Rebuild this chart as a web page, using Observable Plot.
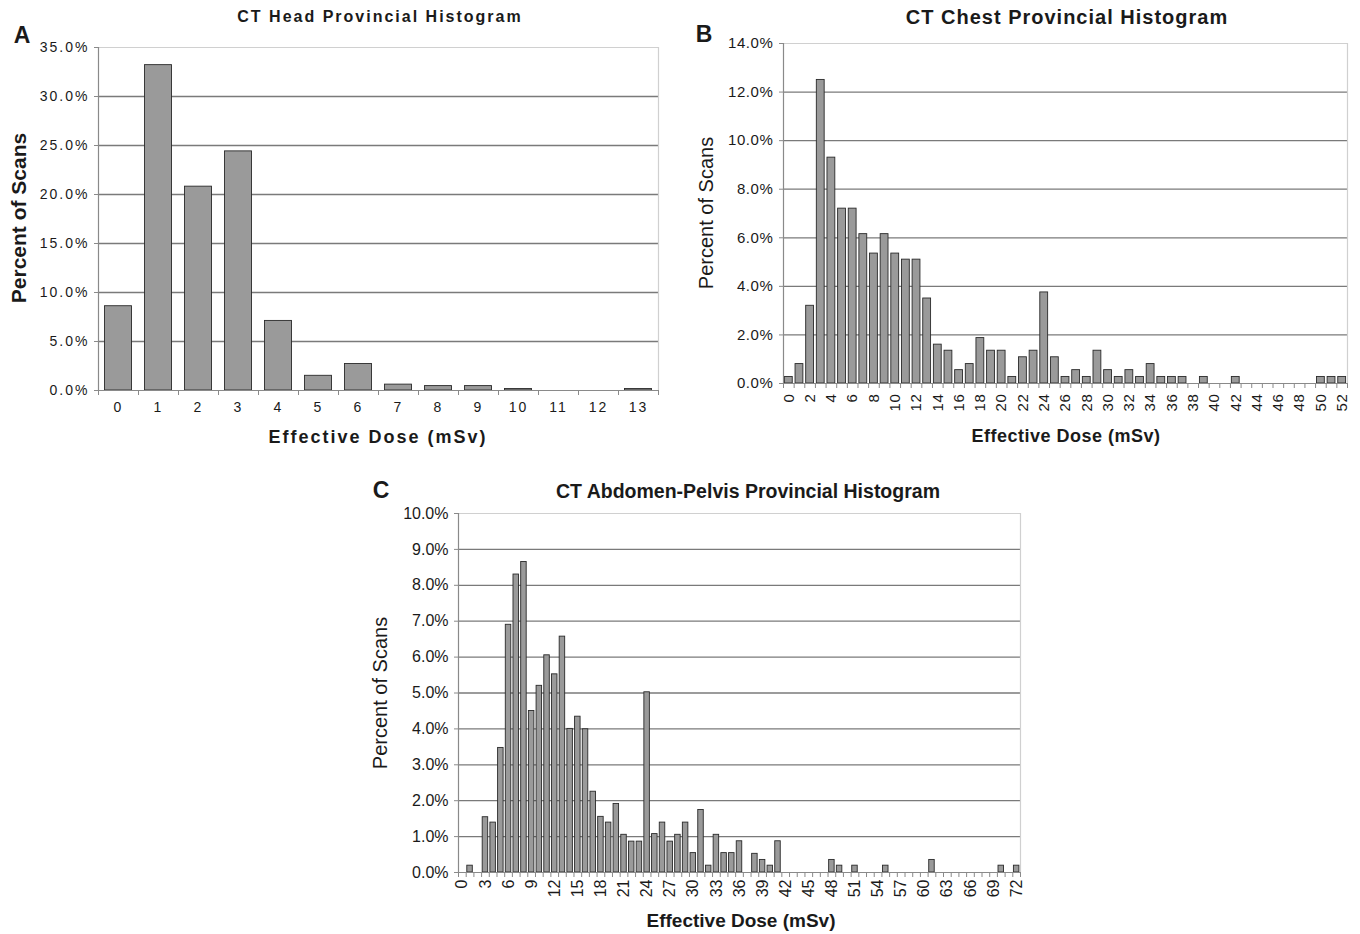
<!DOCTYPE html>
<html><head><meta charset="utf-8">
<script src="https://cdn.jsdelivr.net/npm/d3@7"></script>
<script src="https://cdn.jsdelivr.net/npm/@observablehq/plot@0.6"></script>
<style>
body{margin:0;background:#fff;}
#root{position:relative;width:1360px;height:934px;overflow:hidden;font-family:"Liberation Sans",Arial,sans-serif;color:#1a1a1a;background:#fff;}
.t{position:absolute;white-space:nowrap;line-height:1;transform:translate(-50%,-50%);}
.rot{transform:translate(-50%,-50%) rotate(-90deg);}
.panel{position:absolute;}
.chA text{letter-spacing:2px;}
.chB text{letter-spacing:0.6px;}
</style></head><body><div id="root"></div>
<script>
// ---- Data ----
const headDose = [0,1,2,3,4,5,6,7,8,9,10,11,12,13];
const headPct  = [8.6,33.2,20.8,24.4,7.1,1.5,2.7,0.6,0.45,0.45,0.15,0,0,0.15];
const headYTicks = [0,5,10,15,20,25,30,35];
const headXLabels = [0,1,2,3,4,5,6,7,8,9,10,11,12,13];

const chestDose = [0,1,2,3,4,5,6,7,8,9,10,11,12,13,14,15,16,17,18,19,20,21,22,23,24,25,26,27,28,29,30,31,32,33,34,35,36,37,38,39,40,41,42,43,44,45,46,47,48,49,50,51,52];
const chestPct  = [0.27,0.8,3.2,12.5,9.3,7.2,7.2,6.15,5.35,6.15,5.35,5.1,5.1,3.5,1.6,1.35,0.55,0.8,1.87,1.35,1.35,0.27,1.08,1.35,3.75,1.08,0.27,0.55,0.27,1.35,0.55,0.27,0.55,0.27,0.8,0.27,0.27,0.27,0,0.27,0,0,0.27,0,0,0,0,0,0,0,0.27,0.27,0.27];
const chestYTicks = [0,2,4,6,8,10,12,14];
const chestXLabels = [0,2,4,6,8,10,12,14,16,18,20,22,24,26,28,30,32,34,36,38,40,42,44,46,48,50,52];

const abdDose = [0,1,2,3,4,5,6,7,8,9,10,11,12,13,14,15,16,17,18,19,20,21,22,23,24,25,26,27,28,29,30,31,32,33,34,35,36,37,38,39,40,41,42,43,44,45,46,47,48,49,50,51,52,53,54,55,56,57,58,59,60,61,62,63,64,65,66,67,68,69,70,71,72];
const abdPct  = [0,0.19,0,1.54,1.39,3.47,6.9,8.3,8.65,4.5,5.2,6.05,5.52,6.57,4.0,4.34,3.99,2.25,1.55,1.39,1.91,1.05,0.86,0.86,5.02,1.07,1.39,0.86,1.05,1.39,0.54,1.74,0.19,1.05,0.54,0.54,0.87,0,0.52,0.35,0.19,0.87,0,0,0,0,0,0,0.35,0.19,0,0.19,0,0,0,0.19,0,0,0,0,0,0.35,0,0,0,0,0,0,0,0,0.19,0,0.19];
const abdYTicks = [0,1,2,3,4,5,6,7,8,9,10];
const abdXLabels = [0,3,6,9,12,15,18,21,24,27,30,33,36,39,42,45,48,51,54,57,60,63,66,69,72];

const FONT = '"Liberation Sans", Arial, sans-serif';
const root = document.getElementById("root");

function chart(c) {
  const data = c.dose.map((d, i) => ({dose: d, pct: c.pct[i]}));
  const n = c.dose.length;
  const x0 = c.dose[0] - 0.5, x1 = c.dose[n - 1] + 0.5;
  const bounds = c.dose.map(d => d - 0.5).concat([x1]);
  const yMax = c.yTicks[c.yTicks.length - 1];
  const svg = Plot.plot({
    className: c.cls,
    width: c.width, height: c.height,
    marginLeft: c.ml, marginRight: c.mr, marginTop: c.mt, marginBottom: c.mb,
    style: {fontFamily: FONT, fontSize: c.tickFont + "px", color: "#1a1a1a", background: "transparent", overflow: "visible"},
    x: {type: "linear", domain: [x0, x1]},
    y: {domain: [0, yMax]},
    marks: [
      Plot.ruleY(c.yTicks.filter(v => v > 0 && v < yMax), {stroke: "#7a7a7a", strokeWidth: 1.3}),
      Plot.ruleY([yMax], {stroke: "#d0d0d0", strokeWidth: 1.2}),
      Plot.ruleX([x1], {stroke: "#d0d0d0", strokeWidth: 1.2}),
      Plot.rectY(data.filter(d => d.pct > 0), {
        x1: d => d.dose - 0.5, x2: d => d.dose + 0.5, y: "pct",
        insetLeft: c.inset, insetRight: c.inset,
        fill: "#9a9a9a", stroke: "#2a2a2a", strokeWidth: 0.9
      }),
      Plot.ruleX([x0], {stroke: "#8a8a8a", strokeWidth: 1.2}),
      Plot.ruleY([0], {stroke: "#8a8a8a", strokeWidth: 1.2}),
      Plot.axisY({ticks: c.yTicks, tickFormat: d => d.toFixed(1) + "%", tickSize: 4, tickPadding: c.yPad, label: null, stroke: "#8a8a8a", fontSize: c.tickFont}),
      Plot.axisX({ticks: bounds, tickFormat: () => "", tickSize: 5, label: null, stroke: "#8a8a8a"}),
      Plot.axisX({ticks: c.xLabels, tickSize: 0, tickPadding: c.xPad, tickRotate: c.rotate, label: null, fontSize: c.tickFont})
    ]
  });
  svg.style.position = "absolute";
  svg.style.left = c.left + "px";
  svg.style.top = c.top + "px";
  root.appendChild(svg);
}

function text(str, x, y, size, weight, extra) {
  const d = document.createElement("div");
  d.className = "t" + (extra && extra.rot ? " rot" : "");
  d.textContent = str;
  d.style.left = x + "px";
  d.style.top = y + "px";
  d.style.fontSize = size + "px";
  d.style.fontWeight = weight;
  if (extra && extra.ls) d.style.letterSpacing = extra.ls + "px";
  root.appendChild(d);
}

chart({cls: "chA", dose: headDose, pct: headPct, yTicks: headYTicks, xLabels: headXLabels,
  left: 0, top: 0, width: 680, height: 460, ml: 98, mr: 22, mt: 47, mb: 70,
  inset: 6.5, tickFont: 14, yPad: 5, xPad: 12, rotate: 0});
chart({cls: "chB", dose: chestDose, pct: chestPct, yTicks: chestYTicks, xLabels: chestXLabels,
  left: 680, top: 0, width: 680, height: 460, ml: 103, mr: 13, mt: 43, mb: 77,
  inset: 1.4, tickFont: 15, yPad: 6, xPad: 10, rotate: -90});
chart({cls: "chC", dose: abdDose, pct: abdPct, yTicks: abdYTicks, xLabels: abdXLabels,
  left: 340, top: 470, width: 700, height: 464, ml: 118, mr: 20, mt: 43, mb: 62,
  inset: 1.1, tickFont: 16, yPad: 6, xPad: 7, rotate: -90});

// Titles, panel letters, axis titles
text("CT Head Provincial Histogram", 380, 17, 16, "bold", {ls: 2});
text("A", 22, 35, 23, "bold");
text("Percent of Scans", 18, 218, 21, "bold", {rot: true});
text("Effective Dose (mSv)", 378, 437, 18, "bold", {ls: 2});

text("CT Chest Provincial Histogram", 1067, 17, 20, "bold", {ls: 1});
text("B", 704, 34, 23, "bold");
text("Percent of Scans", 706, 213, 20, "normal", {rot: true});
text("Effective Dose (mSv)", 1066, 436, 18, "bold", {ls: 0.5});

text("CT Abdomen-Pelvis Provincial Histogram", 748, 492, 19.5, "bold");
text("C", 381, 490, 23, "bold");
text("Percent of Scans", 380, 693, 20, "normal", {rot: true});
text("Effective Dose (mSv)", 741, 920, 19, "bold");
</script>
</body></html>
